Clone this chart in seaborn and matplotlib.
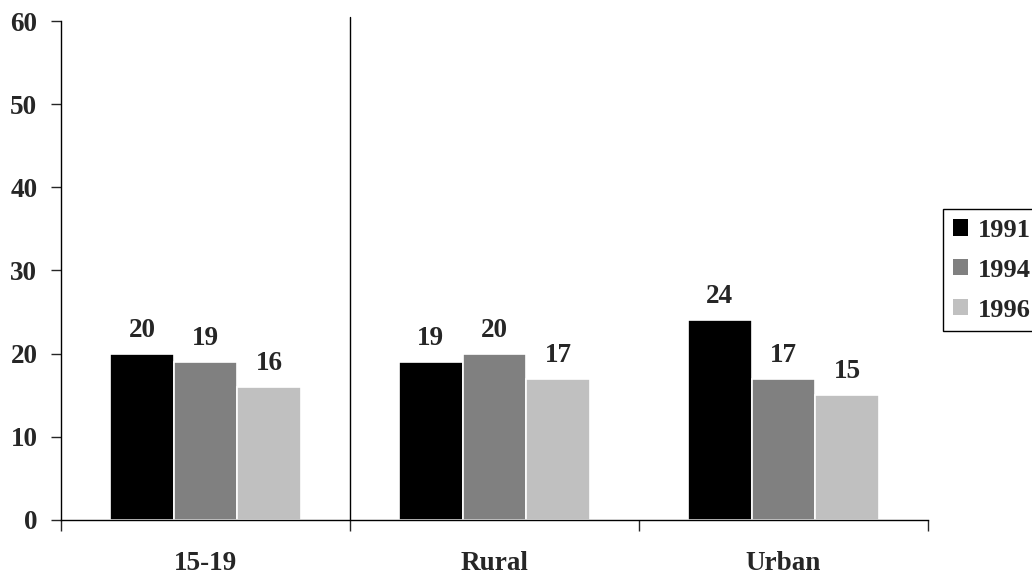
import matplotlib
matplotlib.use("Agg")
import matplotlib.pyplot as plt
import seaborn as sns
import pandas as pd

# Percentages by group and survey year
categories = ["15-19", "Rural", "Urban"]
years = ["1991", "1994", "1996"]
values_1991 = [20, 19, 24]
values_1994 = [19, 20, 17]
values_1996 = [16, 17, 15]

colors = ["#000000", "#808080", "#C0C0C0"]

rows = []
for yr, vals in zip(years, [values_1991, values_1994, values_1996]):
    for cat, v in zip(categories, vals):
        rows.append({"category": cat, "year": yr, "value": v})
df = pd.DataFrame(rows)

sns.set_style("white")
plt.rcParams["font.family"] = ["Liberation Serif", "DejaVu Serif"]
plt.rcParams["font.weight"] = "bold"

fig = plt.figure(figsize=(10.32, 5.77), dpi=100)
ax = fig.add_axes([0.0591, 0.0988, 0.8401, 0.8648])

sns.barplot(data=df, x="category", y="value", hue="year", order=categories,
            hue_order=years, palette=colors, width=0.66, saturation=1,
            edgecolor="white", linewidth=1.2, ax=ax, legend=True)

for cont in ax.containers:
    ax.bar_label(cont, padding=8, fontsize=19.5, fontweight="bold")

ax.set_ylim(0, 60)
ax.set_xlim(-0.5, len(categories) - 0.5)
ax.set_yticks(range(0, 61, 10))
ax.tick_params(axis="y", which="major", left=True, direction="out", length=7,
               width=1, labelsize=19.5, pad=10)
for lbl in ax.get_yticklabels():
    lbl.set_fontweight("bold")

# Boundary ticks between groups, labels at group centres
ax.set_xticks([i - 0.5 for i in range(len(categories) + 1)])
ax.set_xticklabels([""] * (len(categories) + 1))
ax.set_xticks(range(len(categories)), minor=True)
ax.set_xticklabels(categories, minor=True, fontsize=19.5, fontweight="bold")
ax.tick_params(axis="x", which="major", bottom=True, direction="out",
               length=8, width=1)
ax.tick_params(axis="x", which="minor", bottom=False, length=0, pad=22)

ax.set_xlabel("")
ax.set_ylabel("")

for side in ["top", "right"]:
    ax.spines[side].set_visible(False)
for side in ["left", "bottom"]:
    ax.spines[side].set_color("black")
    ax.spines[side].set_linewidth(1)

# Divider after the first group
ax.axvline(0.5, ymin=0, ymax=1.008, color="black", linewidth=1, clip_on=False)

handles, labels = ax.get_legend_handles_labels()
leg = ax.legend(handles, labels, loc="upper left",
                bbox_to_anchor=(943 / 1032, 1 - 209 / 577),
                bbox_transform=fig.transFigure, borderaxespad=0,
                frameon=True, fancybox=False,
                edgecolor="black", framealpha=1, borderpad=0.37,
                labelspacing=0.64, handlelength=0.57, handleheight=0.57,
                handletextpad=0.38, prop={"size": 19, "weight": "bold"})
leg.get_frame().set_linewidth(1)
for p in leg.get_patches():
    p.set_edgecolor("none")

fig.savefig("out.png", dpi=100)
